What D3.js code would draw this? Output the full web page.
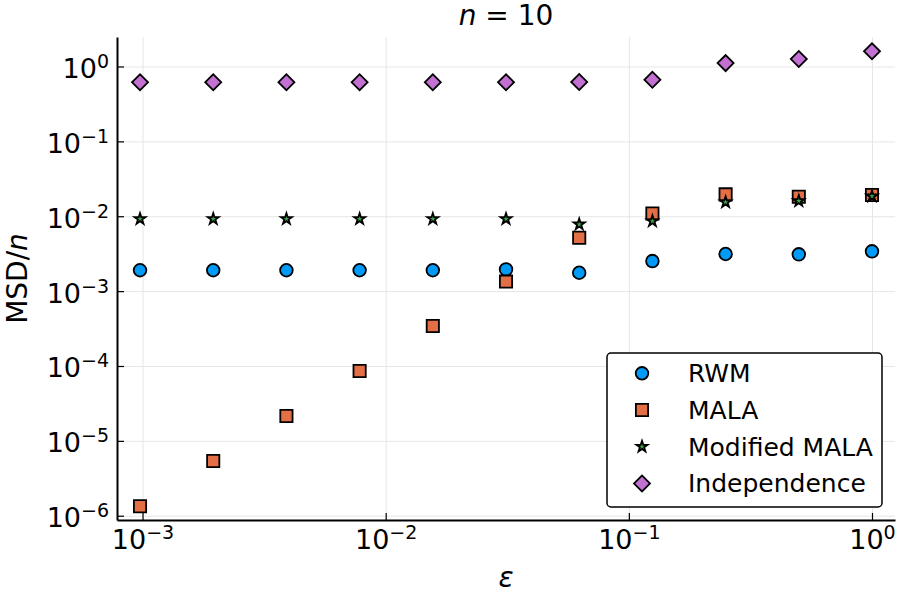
<!DOCTYPE html>
<html>
<head>
<meta charset="utf-8">
<script src="https://d3js.org/d3.v7.min.js"></script>
<style>
  body { margin: 0; background: #fff; }
  text { font-family: "DejaVu Sans", sans-serif; fill: #000; }
</style>
</head>
<body>
<script>

// step sizes epsilon = 2^-10 ... 2^0
var epsilon = [1/1024, 1/512, 1/256, 1/128, 1/64, 1/32, 1/16, 1/8, 1/4, 1/2, 1];

// MSD/n per sampler
var rwm = [1.90e-3, 1.90e-3, 1.90e-3, 1.90e-3, 1.90e-3, 1.95e-3, 1.76e-3, 2.52e-3, 3.13e-3, 3.10e-3, 3.40e-3];
var mala = [1.34e-6, 5.38e-6, 2.15e-5, 8.57e-5, 3.42e-4, 1.34e-3, 5.17e-3, 1.09e-2, 1.96e-2, 1.82e-2, 1.92e-2];
var modMala = [9.2e-3, 9.2e-3, 9.2e-3, 9.2e-3, 9.2e-3, 9.2e-3, 7.8e-3, 8.6e-3, 1.54e-2, 1.60e-2, 1.85e-2];
var independence = [0.615, 0.615, 0.615, 0.615, 0.615, 0.615, 0.62, 0.667, 1.11, 1.26, 1.60];

var seriesNames = ["RWM", "MALA", "Modified MALA", "Independence"];
var seriesColors = ["#009af9", "#e26f46", "#3da44d", "#c271d2"];

var xTicks = [1e-3, 1e-2, 1e-1, 1];
var xTickExp = ["−3", "−2", "−1", "0"];
var yTicks = [1, 1e-1, 1e-2, 1e-3, 1e-4, 1e-5, 1e-6];
var yTickExp = ["0", "−1", "−2", "−3", "−4", "−5", "−6"];

var W = 900, H = 600;
var mLeft = 117, mRight = 895, mTop = 37, mBottom = 520;

var svg = d3.select("body").append("svg")
    .attr("width", W)
    .attr("height", H);

var x = d3.scaleLog()
    .domain([Math.pow(10, -3.105), Math.pow(10, 0.0946)])
    .range([mLeft, mRight]);
var y = d3.scaleLog()
    .domain([Math.pow(10, -6.057), Math.pow(10, 0.394)])
    .range([mBottom, mTop]);

// grid
svg.append("g")
    .attr("transform", "translate(0," + mBottom + ")")
    .call(d3.axisBottom(x).tickValues(xTicks).tickSize(-(mBottom - mTop)).tickFormat(""))
    .call(g => g.select(".domain").remove())
    .selectAll("line").attr("stroke", "#e6e6e6").attr("stroke-width", 1);
svg.append("g")
    .attr("transform", "translate(" + mLeft + ",0)")
    .call(d3.axisLeft(y).tickValues(yTicks).tickSize(-(mRight - mLeft)).tickFormat(""))
    .call(g => g.select(".domain").remove())
    .selectAll("line").attr("stroke", "#e6e6e6").attr("stroke-width", 1);

// axes
var xAxis = svg.append("g")
    .attr("transform", "translate(0," + mBottom + ")")
    .call(d3.axisBottom(x).tickValues(xTicks).tickSizeInner(-7).tickSizeOuter(0).tickFormat(""));
var yAxis = svg.append("g")
    .attr("transform", "translate(" + mLeft + ",0)")
    .call(d3.axisLeft(y).tickValues(yTicks).tickSizeInner(-7).tickSizeOuter(0).tickFormat(""));

[xAxis, yAxis].forEach(function(g) {
  g.select(".domain").attr("stroke", "#000").attr("stroke-width", 2);
  g.selectAll(".tick line").attr("stroke", "#000").attr("stroke-width", 1.2);
});

function powLabel(text, exp) {
  text.text(null).attr("font-size", 27).attr("fill", "#000");
  text.append("tspan").text("10");
  text.append("tspan").attr("font-size", 19).attr("dy", -10).text(exp);
}

xAxis.selectAll(".tick text").each(function(d, i) {
  var t = d3.select(this).attr("y", 29).attr("dy", null).attr("text-anchor", "middle");
  powLabel(t, xTickExp[i]);
});
yAxis.selectAll(".tick text").each(function(d, i) {
  var t = d3.select(this).attr("x", -8).attr("dy", null).attr("y", 11).attr("text-anchor", "end");
  powLabel(t, yTickExp[i]);
});

// markers
var symbols = [
  d3.symbol().type(d3.symbolCircle).size(125),
  d3.symbol().type(d3.symbolSquare).size(150),
  d3.symbol().type(d3.symbolStar).size(38),
  d3.symbol().type(d3.symbolSquare).size(128)
];
var rotations = [0, 0, 0, 45];
var allSeries = [rwm, mala, modMala, independence];

allSeries.forEach(function(vals, s) {
  svg.append("g").selectAll("path")
    .data(vals)
    .enter().append("path")
      .attr("d", symbols[s])
      .attr("transform", function(d, i) {
        return "translate(" + x(epsilon[i]) + "," + y(d) + ") rotate(" + rotations[s] + ")";
      })
      .attr("fill", seriesColors[s])
      .attr("stroke", "#000")
      .attr("stroke-width", 1.8);
});

// title and axis labels
var title = svg.append("text")
    .attr("x", (mLeft + mRight) / 2)
    .attr("y", 25)
    .attr("text-anchor", "middle")
    .attr("font-size", 28);
title.append("tspan").attr("font-style", "italic").text("n");
title.append("tspan").text(" = 10");

svg.append("text")
    .attr("x", (mLeft + mRight) / 2)
    .attr("y", 587)
    .attr("text-anchor", "middle")
    .attr("font-size", 28)
    .attr("font-style", "italic")
    .text("ε");

var ylab = svg.append("text")
    .attr("transform", "translate(27," + ((mTop + mBottom) / 2) + ") rotate(-90)")
    .attr("text-anchor", "middle")
    .attr("font-size", 28);
ylab.append("tspan").text("MSD/");
ylab.append("tspan").attr("font-style", "italic").text("n");

// legend
var legend = svg.append("g");
legend.append("rect")
    .attr("x", 607).attr("y", 353)
    .attr("width", 275).attr("height", 154)
    .attr("rx", 4)
    .attr("fill", "#fff")
    .attr("stroke", "#000")
    .attr("stroke-width", 1.5);

seriesNames.forEach(function(name, s) {
  var cy = 373.3 + s * 36.7;
  legend.append("path")
      .attr("d", symbols[s])
      .attr("transform", "translate(642," + cy + ") rotate(" + rotations[s] + ")")
      .attr("fill", seriesColors[s])
      .attr("stroke", "#000")
      .attr("stroke-width", 1.8);
  legend.append("text")
      .attr("x", 688)
      .attr("y", cy + 8.8)
      .attr("font-size", 25)
      .text(name);
});

</script>
</body>
</html>
